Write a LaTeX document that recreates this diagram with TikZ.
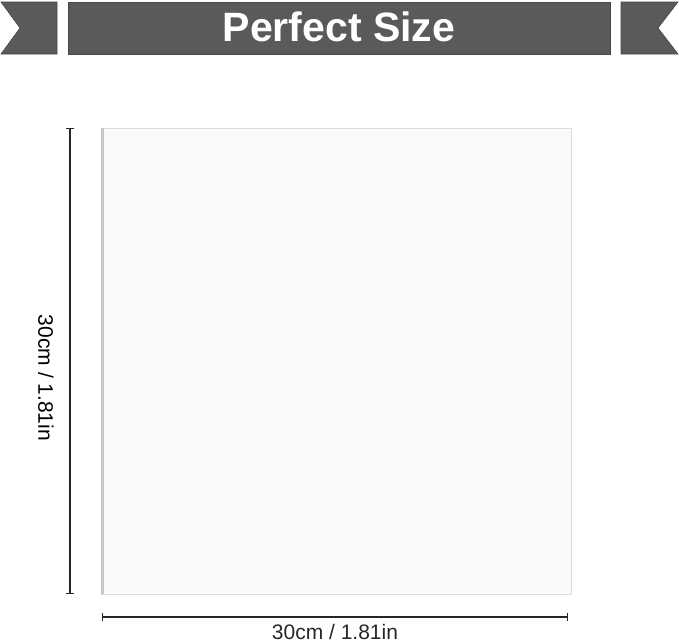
\documentclass[tikz,border=0pt]{standalone}
\usepackage{fontspec}
\setmainfont{Liberation Sans}
\usetikzlibrary{positioning}
\definecolor{bannergray}{HTML}{5A5A5A}
\definecolor{sheetfill}{HTML}{FAFAFA}
\definecolor{sheetedge}{HTML}{DCDCDC}
\tikzstyle{dim}    = [|-|, line width=1.1pt, black!85]
\tikzstyle{banner} = [fill=bannergray, draw=bannergray!80!black, line width=0.6pt]
\tikzstyle{dimlabel} = [font=\fontsize{21}{21}\selectfont, inner sep=0pt]

\begin{document}
\begin{tikzpicture}[x=1pt,y=-1pt]
    \useasboundingbox (0,0) rectangle (679,643);
    % header banner
    \draw[banner] (1,2) -- (57,2) -- (57,54) -- (1,54) -- (20,28) -- cycle;
    \draw[banner] (68,2) rectangle (610,54);
    \draw[banner] (621,2) -- (678,2) -- (658,28) -- (678,54) -- (621,54) -- cycle;
    \node[text=white, font=\bfseries\fontsize{41}{41}\selectfont, inner sep=0pt] (title) at (339,27) {Perfect Size};
    % the sheet
    \coordinate (TL) at (101,128);
    \coordinate (BR) at (571,594);
    \draw[fill=sheetfill, draw=sheetedge, line width=1pt] (TL) rectangle (BR);
    \fill[sheetedge!90!black] (TL) rectangle ++(3,466);
    % dimensions
    \coordinate (vtop) at (70,128);
    \coordinate (vbot) at (70,594);
    \coordinate (hleft) at (102,617);
    \coordinate (hright) at (568,617);
    \draw[dim] (vtop) -- (vbot);
    \node[rotate=-90, dimlabel] (hlabel) at (46,378) {30cm / 1.81in};
    \draw[dim] (hleft) -- (hright) node[midway, below=7pt, dimlabel] (wlabel) {30cm / 1.81in};
  \end{tikzpicture}
\end{document}
